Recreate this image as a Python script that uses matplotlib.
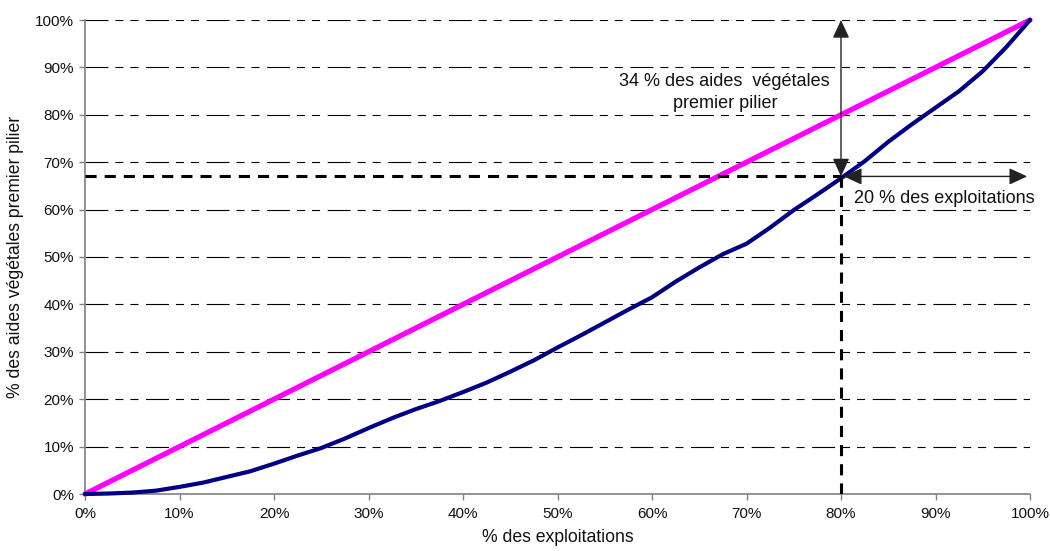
import matplotlib
matplotlib.use("Agg")
import matplotlib.pyplot as plt
from matplotlib.ticker import PercentFormatter

plt.rcParams['font.family'] = ['Liberation Sans', 'DejaVu Sans']
plt.rcParams['lines.scale_dashes'] = False

# Data (percent)
share_farms = [0, 2.5, 5, 7.5, 10, 12.5, 15, 17.5, 20, 22.5, 25, 27.5, 30, 32.5, 35,
               37.5, 40, 42.5, 45, 47.5, 50, 52.5, 55, 57.5, 60, 62.5, 65, 67.5, 70,
               72.5, 75, 77.5, 80, 82.5, 85, 87.5, 90, 92.5, 95, 97.5, 100]
share_aid = [0, 0.1, 0.3, 0.7, 1.5, 2.4, 3.6, 4.8, 6.4, 8.1, 9.7, 11.7, 13.9, 16.0, 17.9,
             19.6, 21.5, 23.5, 25.8, 28.2, 30.9, 33.5, 36.2, 38.9, 41.5, 44.8, 47.8, 50.6, 52.8,
             56.2, 59.9, 63.2, 66.6, 70.2, 74.3, 78.0, 81.5, 85.0, 89.2, 94.3, 100]
equality_x = [0, 100]
equality_y = [0, 100]
x_ticks = [0, 10, 20, 30, 40, 50, 60, 70, 80, 90, 100]
y_ticks = [0, 10, 20, 30, 40, 50, 60, 70, 80, 90, 100]
ref_x = 80
ref_y = 67

W, H = 1050, 551
fig = plt.figure(figsize=(W / 100, H / 100), dpi=100)
ax = fig.add_axes([85 / W, 1 - 494 / H, (1030 - 85) / W, (494 - 20) / H])

ax.set_xlim(0, 100)
ax.set_ylim(0, 100)

# Gridlines (dash-dot-dot style)
for yv in y_ticks[1:]:
    ax.axhline(yv, color='black', lw=0.8, dashes=(16.5, 5, 5.8, 5, 5.8, 5.5), zorder=1)

ax.plot(equality_x, equality_y, color='#FF00FF', lw=3.8, zorder=3, clip_on=False,
        solid_capstyle='round')
ax.plot(share_farms, share_aid, color='#000080', lw=3.0, zorder=4, clip_on=False,
        solid_capstyle='round', solid_joinstyle='round')

# reference dashed lines
ax.plot([0, ref_x], [ref_y, ref_y], color='black', lw=2.2, dashes=(8, 5.8), zorder=5)
ax.plot([ref_x, ref_x], [0, ref_y], color='black', lw=2.2, dashes=(8, 5.8), zorder=5)

# arrows
arrow_style = '<|-|>,head_length=0.65,head_width=0.3'
ax.annotate('', xy=(ref_x, 100), xytext=(ref_x, ref_y),
            arrowprops=dict(arrowstyle=arrow_style, color='#222222', lw=1.0,
                            mutation_scale=17, shrinkA=0, shrinkB=0), zorder=6)
ax.annotate('', xy=(99.7, ref_y), xytext=(ref_x + 0.3, ref_y),
            arrowprops=dict(arrowstyle=arrow_style, color='#222222', lw=1.0,
                            mutation_scale=17, shrinkA=0, shrinkB=0), zorder=6)

ax.text(67.7, 84.7, '34 % des aides  végétales\npremier pilier', ha='center', va='center',
        fontsize=13, color='#111111', linespacing=1.35)
ax.text(90.9, 62.4, '20 % des exploitations', ha='center', va='center',
        fontsize=13, color='#111111')

ax.set_xticks(x_ticks)
ax.set_yticks(y_ticks)
ax.xaxis.set_major_formatter(PercentFormatter(100, decimals=0))
ax.yaxis.set_major_formatter(PercentFormatter(100, decimals=0))
ax.tick_params(axis='both', which='major', labelsize=11, color='#808080', length=4,
               width=1, labelcolor='#111111')
ax.tick_params(axis='x', pad=5)
ax.tick_params(axis='y', pad=4)

for s in ['top', 'right']:
    ax.spines[s].set_visible(False)
for s in ['left', 'bottom']:
    ax.spines[s].set_color('#808080')
    ax.spines[s].set_linewidth(1.2)

ax.set_xlabel('% des exploitations', fontsize=12.7, color='#111111', labelpad=6)
ax.set_ylabel('% des aides végétales premier pilier', fontsize=12.7, color='#111111', labelpad=8)

fig.savefig('out.png', dpi=100)
